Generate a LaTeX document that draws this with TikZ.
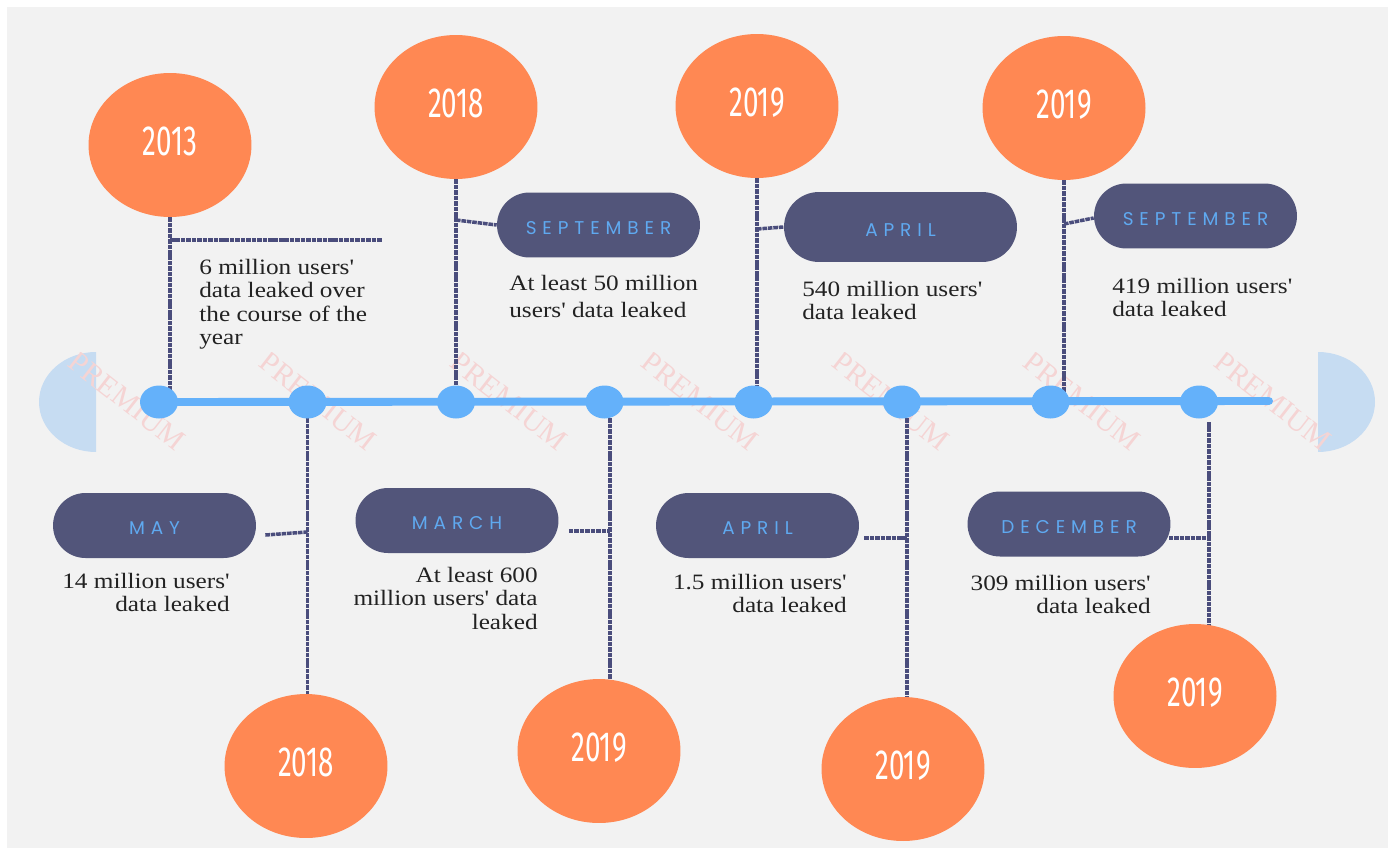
\documentclass[tikz,border=0pt]{standalone}
\usepackage{fontspec}
\setmainfont{Liberation Serif}
\newfontfamily\yearfont[FakeStretch=0.66]{Fira Sans}
\newfontfamily\monthfont[LetterSpace=32]{Poppins}
\newfontfamily\bodyfont[FakeStretch=1.15]{Liberation Serif}
\usetikzlibrary{shapes.geometric,backgrounds,calc}
\usepackage{xcolor}
\definecolor{panel}{HTML}{F2F2F2}
\definecolor{tangerine}{HTML}{FF8853}
\definecolor{skyline}{HTML}{64B1FA}
\definecolor{palesky}{HTML}{C6DCF2}
\definecolor{slate}{HTML}{52557A}
\definecolor{monthblue}{HTML}{5FA9F0}
\definecolor{leadcol}{HTML}{4A4D7C}
\definecolor{stamp}{HTML}{F5D4D4}
\definecolor{ink}{HTML}{222222}

\tikzset{
  year/.style={ellipse,fill=tangerine,minimum width=3.26cm,minimum height=2.88cm,
    inner sep=0pt,text=white,text depth=4.6pt,font=\yearfont\fontsize{24}{26}\selectfont},
  dot/.style={ellipse,fill=skyline,minimum width=.76cm,minimum height=.66cm,inner sep=0pt},
  pill/.style={rectangle,rounded corners=.65cm,fill=slate,minimum width=4.06cm,
    minimum height=1.3cm,inner sep=0pt,text=monthblue,text height=10.7pt,
    font=\monthfont\fontsize{10.5}{12}\selectfont},
  blurb/.style={inner sep=0pt,text=ink,font=\bodyfont\fontsize{12.5}{13.3}\selectfont},
  leader/.style={draw=leadcol,line width=2pt,dash pattern=on 2.6pt off .5pt},
}

\begin{document}
\begin{tikzpicture}[x=.02cm,y=-.02cm]
  \useasboundingbox (0,0) rectangle (1395,852);

  % timeline dots
  \foreach \i/\x in {1/159,2/307.5,3/456,4/604.5,5/753.5,6/902,7/1050.5,8/1199}
    \node[dot] (dt\i) at (\x,402) {};

  % years
  \node[year] (yr1) at (170,145) {2013};
  \node[year] (yr2) at (306,766) {2018};
  \node[year] (yr3) at (456,107) {2018};
  \node[year] (yr4) at (599,751) {2019};
  \node[year] (yr5) at (757,106) {2019};
  \node[year] (yr6) at (903,769) {2019};
  \node[year] (yr7) at (1064,108) {2019};
  \node[year] (yr8) at (1195,696) {2019};

  % months
  \node[pill] (mo2) at (154.5,525.5) {MAY};
  \node[pill] (mo3) at (598.5,225) {SEPTEMBER};
  \node[pill] (mo4) at (457,520.5) {MARCH};
  \node[pill,minimum width=4.66cm,minimum height=1.4cm,rounded corners=.7cm] (mo5) at (900.5,227) {APRIL};
  \node[pill] (mo6) at (757.5,525.5) {APRIL};
  \node[pill] (mo7) at (1195.5,216) {SEPTEMBER};
  \node[pill] (mo8) at (1069,524) {DECEMBER};

  % notes
  \node[blurb,anchor=north west,align=left] (tx1) at (199,259) {6 million users'\\data leaked over\\the course of the\\year};
  \node[blurb,anchor=north west,align=left,font=\bodyfont\fontsize{12.5}{15.1}\selectfont] (tx3) at (509,275) {At least 50 million\\users' data leaked};
  \node[blurb,anchor=north west,align=left] (tx5) at (802,281) {540 million users'\\data leaked};
  \node[blurb,anchor=north west,align=left] (tx7) at (1112,278) {419 million users'\\data leaked};
  \node[blurb,anchor=north east,align=right] (tx2) at (230,573) {14 million users'\\data leaked};
  \node[blurb,anchor=north east,align=right] (tx4) at (538,567) {At least 600\\million users' data\\leaked};
  \node[blurb,anchor=north east,align=right] (tx6) at (847,574) {1.5 million users'\\data leaked};
  \node[blurb,anchor=north east,align=right] (tx8) at (1151,575) {309 million users'\\data leaked};

  \begin{scope}[on background layer]
    \fill[white] (0,0) rectangle (1395,852);
    \fill[panel] (7,7) rectangle (1388,848);
    % end caps
    \fill[palesky] (96,352) arc[start angle=90,end angle=270,x radius=1.14cm,y radius=1cm] -- cycle;
    \fill[palesky] (1318,352) arc[start angle=90,end angle=-90,x radius=1.14cm,y radius=1cm] -- cycle;
    % watermark
    \begin{scope}
      \clip (7,352) rectangle (1388,452);
      \foreach \x in {78,269,460,651,842,1033,1224}
        \node[anchor=north west,inner sep=0pt,rotate=-38,text=stamp,
          font=\fontsize{17}{17}\selectfont] at (\x,350) {PREMIUM};
    \end{scope}
    % axis
    \draw[skyline,line width=4.5pt,line cap=round] (dt1.center) -- (1269,401);

    % leaders, top row
    \coordinate (br1) at (382,240);
    \draw[leader] (yr1.south) -- (yr1.south |- dt1.center);
    \draw[leader] (yr1.south |- br1) -- (br1);
    \draw[leader] (yr3.south) -- (yr3.south |- dt3.center);
    \draw[leader] ([yshift=.1cm]mo3.west -| yr3.south) -- (mo3.west);
    \draw[leader] (yr5.south) -- (yr5.south |- dt5.center);
    \draw[leader] ([yshift=-.04cm]mo5.west -| yr5.south) -- (mo5.west);
    \draw[leader] (yr7.south) -- (yr7.south |- dt7.center);
    \draw[leader] ([yshift=-.16cm]mo7.west -| yr7.south) -- ([yshift=-.04cm]mo7.west);

    % leaders, bottom row
    \coordinate (v2) at (dt2.center);
    \coordinate (v4) at ([xshift=.11cm]dt4.center);
    \coordinate (v6) at ([xshift=.1cm]dt6.center);
    \coordinate (v8) at ([xshift=.2cm]dt8.center);
    \draw[leader] (v2) -- (v2 |- yr2.center);
    \draw[leader] ([xshift=.18cm,yshift=-.19cm]mo2.east) -- ([yshift=-.13cm]mo2.east -| v2);
    \draw[leader] (v4) -- (v4 |- yr4.center);
    \draw[leader] ([xshift=.2cm,yshift=-.21cm]mo4.east) -- ([yshift=-.21cm]mo4.east -| v4);
    \draw[leader] (v6) -- (v6 |- yr6.center);
    \draw[leader] ([xshift=.1cm,yshift=-.25cm]mo6.east) -- ([yshift=-.25cm]mo6.east -| v6);
    \draw[leader] ([yshift=-.4cm]v8) -- (v8 |- yr8.center);
    \draw[leader] ([xshift=-.04cm,yshift=-.28cm]mo8.east) -- ([yshift=-.28cm]mo8.east -| v8);
  \end{scope}
\end{tikzpicture}
\end{document}
